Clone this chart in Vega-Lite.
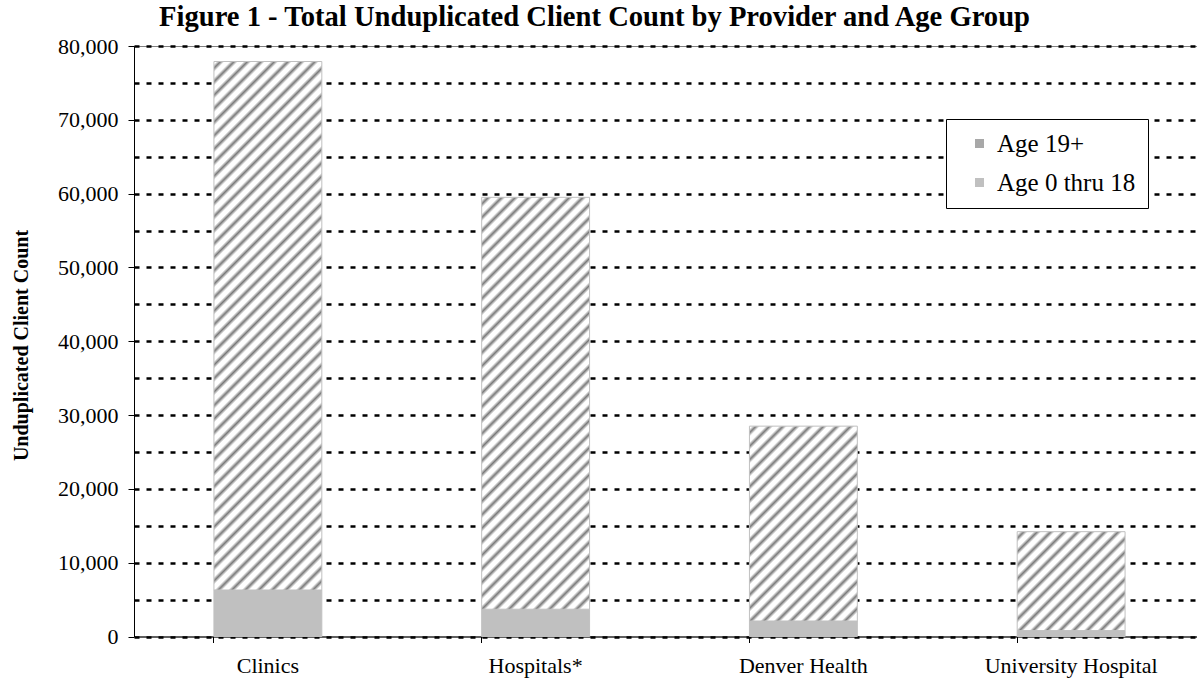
{
  "$schema": "https://vega.github.io/schema/vega-lite/v6.json",
  "width": 1063,
  "height": 590.5,
  "autosize": {"type": "none"},
  "padding": {"left": 134, "top": 46, "right": 0, "bottom": 43.5},
  "background": "white",
  "title": {
    "text": "Figure 1 - Total Unduplicated Client Count by Provider and Age Group",
    "font": "Liberation Serif, Times New Roman, serif",
    "fontSize": 28.6,
    "fontWeight": "bold",
    "color": "#000",
    "anchor": "middle",
    "baseline": "alphabetic",
    "dx": -71,
    "offset": -20
  },
  "data": {
    "values": [
      {"provider": "Clinics", "age": "Age 0 thru 18", "count": 6300},
      {"provider": "Clinics", "age": "Age 19+", "count": 71600},
      {"provider": "Hospitals*", "age": "Age 0 thru 18", "count": 3700},
      {"provider": "Hospitals*", "age": "Age 19+", "count": 55800},
      {"provider": "Denver Health", "age": "Age 0 thru 18", "count": 2100},
      {"provider": "Denver Health", "age": "Age 19+", "count": 26400},
      {"provider": "University Hospital", "age": "Age 0 thru 18", "count": 800},
      {"provider": "University Hospital", "age": "Age 19+", "count": 13400}
    ]
  },
  "mark": {"type": "bar", "stroke": "#c0c0c0", "strokeWidth": 1},
  "encoding": {
    "x": {
      "field": "provider",
      "type": "nominal",
      "sort": ["Clinics", "Hospitals*", "Denver Health", "University Hospital"],
      "scale": {"range": [0, 1071], "paddingInner": 0.597, "paddingOuter": 0.2985},
      "axis": {
        "title": null,
        "bandPosition": 0,
        "tickSize": 6,
        "tickColor": "#000",
        "domainColor": "#000",
        "labelAngle": 0,
        "labelFont": "Liberation Serif, Times New Roman, serif",
        "labelFontSize": 22,
        "labelColor": "#000",
        "labelPadding": 13,
        "grid": false
      }
    },
    "y": {
      "field": "count",
      "type": "quantitative",
      "stack": "zero",
      "scale": {"domain": [0, 80000], "nice": false},
      "axis": {
        "title": "Unduplicated Client Count",
        "values": [0, 5000, 10000, 15000, 20000, 25000, 30000, 35000, 40000, 45000, 50000, 55000, 60000, 65000, 70000, 75000, 80000],
        "labelExpr": "datum.value % 10000 === 0 ? format(datum.value, ',') : ''",
        "tickOpacity": {"condition": {"test": "datum.value % 10000 === 0", "value": 1}, "value": 0},
        "tickSize": 6,
        "tickColor": "#000",
        "domainColor": "#000",
        "grid": true,
        "gridColor": "#000",
        "gridDash": [5, 7],
        "gridWidth": 2.5,
        "labelFont": "Liberation Serif, Times New Roman, serif",
        "labelFontSize": 22,
        "labelColor": "#000",
        "labelPadding": 10,
        "titleFont": "Liberation Serif, Times New Roman, serif",
        "titleFontSize": 20,
        "titleFontWeight": "bold",
        "titleColor": "#000",
        "titleAngle": -90,
        "titleBaseline": "middle",
        "titleX": -113,
        "titleY": 299
      }
    },
    "order": {"field": "age", "sort": "ascending"},
    "fill": {
      "field": "age",
      "type": "nominal",
      "scale": {"domain": ["Age 19+", "Age 0 thru 18"], "range": ["#a8a8a8", "#c0c0c0"]},
      "legend": {
        "orient": "none",
        "legendX": 812,
        "legendY": 73,
        "title": null,
        "direction": "vertical",
        "symbolType": "square",
        "symbolSize": 81,
        "symbolStrokeWidth": 0,
        "symbolOffset": 9,
        "labelFont": "Liberation Serif, Times New Roman, serif",
        "labelFontSize": 25,
        "labelColor": "#000",
        "labelOffset": 5,
        "rowPadding": 13,
        "padding": 12,
        "strokeColor": "#000",
        "fillColor": "#fff"
      },
      "condition": [
        {
          "test": "datum.age === 'Age 19+' && datum.provider === 'Clinics'",
          "value": {
            "gradient": "linear", "x1": 0, "y1": 0, "x2": 0.236, "y2": 1.156,
            "stops": [
              {"offset":0.0042,"color":"#fff"},{"offset":0.0106,"color":"#7a7a7a"},{"offset":0.0170,"color":"#fff"},
              {"offset":0.0254,"color":"#fff"},{"offset":0.0318,"color":"#7a7a7a"},{"offset":0.0382,"color":"#fff"},
              {"offset":0.0466,"color":"#fff"},{"offset":0.0530,"color":"#7a7a7a"},{"offset":0.0594,"color":"#fff"},
              {"offset":0.0678,"color":"#fff"},{"offset":0.0742,"color":"#7a7a7a"},{"offset":0.0806,"color":"#fff"},
              {"offset":0.0890,"color":"#fff"},{"offset":0.0954,"color":"#7a7a7a"},{"offset":0.1018,"color":"#fff"},
              {"offset":0.1102,"color":"#fff"},{"offset":0.1166,"color":"#7a7a7a"},{"offset":0.1230,"color":"#fff"},
              {"offset":0.1314,"color":"#fff"},{"offset":0.1378,"color":"#7a7a7a"},{"offset":0.1442,"color":"#fff"},
              {"offset":0.1526,"color":"#fff"},{"offset":0.1590,"color":"#7a7a7a"},{"offset":0.1654,"color":"#fff"},
              {"offset":0.1738,"color":"#fff"},{"offset":0.1802,"color":"#7a7a7a"},{"offset":0.1866,"color":"#fff"},
              {"offset":0.1950,"color":"#fff"},{"offset":0.2014,"color":"#7a7a7a"},{"offset":0.2078,"color":"#fff"},
              {"offset":0.2162,"color":"#fff"},{"offset":0.2226,"color":"#7a7a7a"},{"offset":0.2290,"color":"#fff"},
              {"offset":0.2374,"color":"#fff"},{"offset":0.2438,"color":"#7a7a7a"},{"offset":0.2502,"color":"#fff"},
              {"offset":0.2586,"color":"#fff"},{"offset":0.2650,"color":"#7a7a7a"},{"offset":0.2714,"color":"#fff"},
              {"offset":0.2798,"color":"#fff"},{"offset":0.2862,"color":"#7a7a7a"},{"offset":0.2926,"color":"#fff"},
              {"offset":0.3010,"color":"#fff"},{"offset":0.3074,"color":"#7a7a7a"},{"offset":0.3138,"color":"#fff"},
              {"offset":0.3222,"color":"#fff"},{"offset":0.3286,"color":"#7a7a7a"},{"offset":0.3350,"color":"#fff"},
              {"offset":0.3434,"color":"#fff"},{"offset":0.3498,"color":"#7a7a7a"},{"offset":0.3562,"color":"#fff"},
              {"offset":0.3646,"color":"#fff"},{"offset":0.3710,"color":"#7a7a7a"},{"offset":0.3774,"color":"#fff"},
              {"offset":0.3858,"color":"#fff"},{"offset":0.3922,"color":"#7a7a7a"},{"offset":0.3986,"color":"#fff"},
              {"offset":0.4070,"color":"#fff"},{"offset":0.4134,"color":"#7a7a7a"},{"offset":0.4198,"color":"#fff"},
              {"offset":0.4282,"color":"#fff"},{"offset":0.4346,"color":"#7a7a7a"},{"offset":0.4410,"color":"#fff"},
              {"offset":0.4494,"color":"#fff"},{"offset":0.4558,"color":"#7a7a7a"},{"offset":0.4622,"color":"#fff"},
              {"offset":0.4706,"color":"#fff"},{"offset":0.4770,"color":"#7a7a7a"},{"offset":0.4834,"color":"#fff"},
              {"offset":0.4918,"color":"#fff"},{"offset":0.4982,"color":"#7a7a7a"},{"offset":0.5046,"color":"#fff"},
              {"offset":0.5130,"color":"#fff"},{"offset":0.5194,"color":"#7a7a7a"},{"offset":0.5258,"color":"#fff"},
              {"offset":0.5342,"color":"#fff"},{"offset":0.5406,"color":"#7a7a7a"},{"offset":0.5470,"color":"#fff"},
              {"offset":0.5554,"color":"#fff"},{"offset":0.5618,"color":"#7a7a7a"},{"offset":0.5682,"color":"#fff"},
              {"offset":0.5766,"color":"#fff"},{"offset":0.5830,"color":"#7a7a7a"},{"offset":0.5894,"color":"#fff"},
              {"offset":0.5978,"color":"#fff"},{"offset":0.6042,"color":"#7a7a7a"},{"offset":0.6106,"color":"#fff"},
              {"offset":0.6190,"color":"#fff"},{"offset":0.6254,"color":"#7a7a7a"},{"offset":0.6318,"color":"#fff"},
              {"offset":0.6402,"color":"#fff"},{"offset":0.6466,"color":"#7a7a7a"},{"offset":0.6530,"color":"#fff"},
              {"offset":0.6614,"color":"#fff"},{"offset":0.6678,"color":"#7a7a7a"},{"offset":0.6742,"color":"#fff"},
              {"offset":0.6826,"color":"#fff"},{"offset":0.6890,"color":"#7a7a7a"},{"offset":0.6954,"color":"#fff"},
              {"offset":0.7038,"color":"#fff"},{"offset":0.7102,"color":"#7a7a7a"},{"offset":0.7166,"color":"#fff"},
              {"offset":0.7250,"color":"#fff"},{"offset":0.7314,"color":"#7a7a7a"},{"offset":0.7378,"color":"#fff"},
              {"offset":0.7462,"color":"#fff"},{"offset":0.7526,"color":"#7a7a7a"},{"offset":0.7590,"color":"#fff"},
              {"offset":0.7674,"color":"#fff"},{"offset":0.7738,"color":"#7a7a7a"},{"offset":0.7802,"color":"#fff"},
              {"offset":0.7886,"color":"#fff"},{"offset":0.7950,"color":"#7a7a7a"},{"offset":0.8014,"color":"#fff"},
              {"offset":0.8098,"color":"#fff"},{"offset":0.8162,"color":"#7a7a7a"},{"offset":0.8226,"color":"#fff"},
              {"offset":0.8310,"color":"#fff"},{"offset":0.8374,"color":"#7a7a7a"},{"offset":0.8438,"color":"#fff"},
              {"offset":0.8522,"color":"#fff"},{"offset":0.8586,"color":"#7a7a7a"},{"offset":0.8650,"color":"#fff"},
              {"offset":0.8734,"color":"#fff"},{"offset":0.8798,"color":"#7a7a7a"},{"offset":0.8862,"color":"#fff"},
              {"offset":0.8946,"color":"#fff"},{"offset":0.9010,"color":"#7a7a7a"},{"offset":0.9074,"color":"#fff"},
              {"offset":0.9158,"color":"#fff"},{"offset":0.9222,"color":"#7a7a7a"},{"offset":0.9286,"color":"#fff"},
              {"offset":0.9370,"color":"#fff"},{"offset":0.9434,"color":"#7a7a7a"},{"offset":0.9498,"color":"#fff"},
              {"offset":0.9582,"color":"#fff"},{"offset":0.9646,"color":"#7a7a7a"},{"offset":0.9710,"color":"#fff"},
              {"offset":0.9794,"color":"#fff"},{"offset":0.9858,"color":"#7a7a7a"},{"offset":0.9922,"color":"#fff"}
            ]
          }
        },
        {
          "test": "datum.age === 'Age 19+' && datum.provider === 'Hospitals*'",
          "value": {
            "gradient": "linear", "x1": 0, "y1": 0, "x2": 0.3093, "y2": 1.1809,
            "stops": [
              {"offset":0.0052,"color":"#fff"},{"offset":0.0130,"color":"#7a7a7a"},{"offset":0.0208,"color":"#fff"},
              {"offset":0.0312,"color":"#fff"},{"offset":0.0390,"color":"#7a7a7a"},{"offset":0.0468,"color":"#fff"},
              {"offset":0.0572,"color":"#fff"},{"offset":0.0650,"color":"#7a7a7a"},{"offset":0.0728,"color":"#fff"},
              {"offset":0.0832,"color":"#fff"},{"offset":0.0910,"color":"#7a7a7a"},{"offset":0.0988,"color":"#fff"},
              {"offset":0.1092,"color":"#fff"},{"offset":0.1170,"color":"#7a7a7a"},{"offset":0.1248,"color":"#fff"},
              {"offset":0.1352,"color":"#fff"},{"offset":0.1430,"color":"#7a7a7a"},{"offset":0.1508,"color":"#fff"},
              {"offset":0.1612,"color":"#fff"},{"offset":0.1690,"color":"#7a7a7a"},{"offset":0.1768,"color":"#fff"},
              {"offset":0.1872,"color":"#fff"},{"offset":0.1950,"color":"#7a7a7a"},{"offset":0.2028,"color":"#fff"},
              {"offset":0.2132,"color":"#fff"},{"offset":0.2210,"color":"#7a7a7a"},{"offset":0.2288,"color":"#fff"},
              {"offset":0.2392,"color":"#fff"},{"offset":0.2470,"color":"#7a7a7a"},{"offset":0.2548,"color":"#fff"},
              {"offset":0.2652,"color":"#fff"},{"offset":0.2730,"color":"#7a7a7a"},{"offset":0.2808,"color":"#fff"},
              {"offset":0.2912,"color":"#fff"},{"offset":0.2990,"color":"#7a7a7a"},{"offset":0.3068,"color":"#fff"},
              {"offset":0.3172,"color":"#fff"},{"offset":0.3250,"color":"#7a7a7a"},{"offset":0.3328,"color":"#fff"},
              {"offset":0.3432,"color":"#fff"},{"offset":0.3510,"color":"#7a7a7a"},{"offset":0.3588,"color":"#fff"},
              {"offset":0.3692,"color":"#fff"},{"offset":0.3770,"color":"#7a7a7a"},{"offset":0.3848,"color":"#fff"},
              {"offset":0.3952,"color":"#fff"},{"offset":0.4030,"color":"#7a7a7a"},{"offset":0.4108,"color":"#fff"},
              {"offset":0.4212,"color":"#fff"},{"offset":0.4290,"color":"#7a7a7a"},{"offset":0.4368,"color":"#fff"},
              {"offset":0.4472,"color":"#fff"},{"offset":0.4550,"color":"#7a7a7a"},{"offset":0.4628,"color":"#fff"},
              {"offset":0.4732,"color":"#fff"},{"offset":0.4810,"color":"#7a7a7a"},{"offset":0.4888,"color":"#fff"},
              {"offset":0.4992,"color":"#fff"},{"offset":0.5070,"color":"#7a7a7a"},{"offset":0.5148,"color":"#fff"},
              {"offset":0.5252,"color":"#fff"},{"offset":0.5330,"color":"#7a7a7a"},{"offset":0.5408,"color":"#fff"},
              {"offset":0.5512,"color":"#fff"},{"offset":0.5590,"color":"#7a7a7a"},{"offset":0.5668,"color":"#fff"},
              {"offset":0.5772,"color":"#fff"},{"offset":0.5850,"color":"#7a7a7a"},{"offset":0.5928,"color":"#fff"},
              {"offset":0.6032,"color":"#fff"},{"offset":0.6110,"color":"#7a7a7a"},{"offset":0.6188,"color":"#fff"},
              {"offset":0.6292,"color":"#fff"},{"offset":0.6370,"color":"#7a7a7a"},{"offset":0.6448,"color":"#fff"},
              {"offset":0.6552,"color":"#fff"},{"offset":0.6630,"color":"#7a7a7a"},{"offset":0.6708,"color":"#fff"},
              {"offset":0.6812,"color":"#fff"},{"offset":0.6890,"color":"#7a7a7a"},{"offset":0.6968,"color":"#fff"},
              {"offset":0.7072,"color":"#fff"},{"offset":0.7150,"color":"#7a7a7a"},{"offset":0.7228,"color":"#fff"},
              {"offset":0.7332,"color":"#fff"},{"offset":0.7410,"color":"#7a7a7a"},{"offset":0.7488,"color":"#fff"},
              {"offset":0.7592,"color":"#fff"},{"offset":0.7670,"color":"#7a7a7a"},{"offset":0.7748,"color":"#fff"},
              {"offset":0.7852,"color":"#fff"},{"offset":0.7930,"color":"#7a7a7a"},{"offset":0.8008,"color":"#fff"},
              {"offset":0.8112,"color":"#fff"},{"offset":0.8190,"color":"#7a7a7a"},{"offset":0.8268,"color":"#fff"},
              {"offset":0.8372,"color":"#fff"},{"offset":0.8450,"color":"#7a7a7a"},{"offset":0.8528,"color":"#fff"},
              {"offset":0.8632,"color":"#fff"},{"offset":0.8710,"color":"#7a7a7a"},{"offset":0.8788,"color":"#fff"},
              {"offset":0.8892,"color":"#fff"},{"offset":0.8970,"color":"#7a7a7a"},{"offset":0.9048,"color":"#fff"},
              {"offset":0.9152,"color":"#fff"},{"offset":0.9230,"color":"#7a7a7a"},{"offset":0.9308,"color":"#fff"},
              {"offset":0.9412,"color":"#fff"},{"offset":0.9490,"color":"#7a7a7a"},{"offset":0.9568,"color":"#fff"},
              {"offset":0.9672,"color":"#fff"},{"offset":0.9750,"color":"#7a7a7a"},{"offset":0.9828,"color":"#fff"},
              {"offset":0.9932,"color":"#fff"}
            ]
          }
        },
        {
          "test": "datum.age === 'Age 19+' && datum.provider === 'Denver Health'",
          "value": {
            "gradient": "linear", "x1": 0, "y1": 0, "x2": 0.6583, "y2": 1.1891,
            "stops": [
              {"offset":0.0089,"color":"#fff"},{"offset":0.0223,"color":"#7a7a7a"},{"offset":0.0357,"color":"#fff"},
              {"offset":0.0535,"color":"#fff"},{"offset":0.0669,"color":"#7a7a7a"},{"offset":0.0803,"color":"#fff"},
              {"offset":0.0981,"color":"#fff"},{"offset":0.1115,"color":"#7a7a7a"},{"offset":0.1249,"color":"#fff"},
              {"offset":0.1427,"color":"#fff"},{"offset":0.1561,"color":"#7a7a7a"},{"offset":0.1695,"color":"#fff"},
              {"offset":0.1873,"color":"#fff"},{"offset":0.2007,"color":"#7a7a7a"},{"offset":0.2141,"color":"#fff"},
              {"offset":0.2319,"color":"#fff"},{"offset":0.2453,"color":"#7a7a7a"},{"offset":0.2587,"color":"#fff"},
              {"offset":0.2765,"color":"#fff"},{"offset":0.2899,"color":"#7a7a7a"},{"offset":0.3033,"color":"#fff"},
              {"offset":0.3211,"color":"#fff"},{"offset":0.3345,"color":"#7a7a7a"},{"offset":0.3479,"color":"#fff"},
              {"offset":0.3657,"color":"#fff"},{"offset":0.3791,"color":"#7a7a7a"},{"offset":0.3925,"color":"#fff"},
              {"offset":0.4103,"color":"#fff"},{"offset":0.4237,"color":"#7a7a7a"},{"offset":0.4371,"color":"#fff"},
              {"offset":0.4549,"color":"#fff"},{"offset":0.4683,"color":"#7a7a7a"},{"offset":0.4817,"color":"#fff"},
              {"offset":0.4995,"color":"#fff"},{"offset":0.5129,"color":"#7a7a7a"},{"offset":0.5263,"color":"#fff"},
              {"offset":0.5441,"color":"#fff"},{"offset":0.5575,"color":"#7a7a7a"},{"offset":0.5709,"color":"#fff"},
              {"offset":0.5887,"color":"#fff"},{"offset":0.6021,"color":"#7a7a7a"},{"offset":0.6155,"color":"#fff"},
              {"offset":0.6333,"color":"#fff"},{"offset":0.6467,"color":"#7a7a7a"},{"offset":0.6601,"color":"#fff"},
              {"offset":0.6779,"color":"#fff"},{"offset":0.6913,"color":"#7a7a7a"},{"offset":0.7047,"color":"#fff"},
              {"offset":0.7225,"color":"#fff"},{"offset":0.7359,"color":"#7a7a7a"},{"offset":0.7493,"color":"#fff"},
              {"offset":0.7671,"color":"#fff"},{"offset":0.7805,"color":"#7a7a7a"},{"offset":0.7939,"color":"#fff"},
              {"offset":0.8117,"color":"#fff"},{"offset":0.8251,"color":"#7a7a7a"},{"offset":0.8385,"color":"#fff"},
              {"offset":0.8563,"color":"#fff"},{"offset":0.8697,"color":"#7a7a7a"},{"offset":0.8831,"color":"#fff"},
              {"offset":0.9009,"color":"#fff"},{"offset":0.9143,"color":"#7a7a7a"},{"offset":0.9277,"color":"#fff"},
              {"offset":0.9455,"color":"#fff"},{"offset":0.9589,"color":"#7a7a7a"},{"offset":0.9723,"color":"#fff"},
              {"offset":0.9901,"color":"#fff"}
            ]
          }
        },
        {
          "test": "datum.age === 'Age 19+' && datum.provider === 'University Hospital'",
          "value": {
            "gradient": "linear", "x1": 0, "y1": 0, "x2": 1.0416, "y2": 0.9547,
            "stops": [
              {"offset":0.0131,"color":"#fff"},{"offset":0.0327,"color":"#7a7a7a"},{"offset":0.0522,"color":"#fff"},
              {"offset":0.0784,"color":"#fff"},{"offset":0.0980,"color":"#7a7a7a"},{"offset":0.1175,"color":"#fff"},
              {"offset":0.1437,"color":"#fff"},{"offset":0.1633,"color":"#7a7a7a"},{"offset":0.1828,"color":"#fff"},
              {"offset":0.2090,"color":"#fff"},{"offset":0.2286,"color":"#7a7a7a"},{"offset":0.2481,"color":"#fff"},
              {"offset":0.2743,"color":"#fff"},{"offset":0.2939,"color":"#7a7a7a"},{"offset":0.3134,"color":"#fff"},
              {"offset":0.3396,"color":"#fff"},{"offset":0.3592,"color":"#7a7a7a"},{"offset":0.3787,"color":"#fff"},
              {"offset":0.4049,"color":"#fff"},{"offset":0.4245,"color":"#7a7a7a"},{"offset":0.4440,"color":"#fff"},
              {"offset":0.4702,"color":"#fff"},{"offset":0.4898,"color":"#7a7a7a"},{"offset":0.5093,"color":"#fff"},
              {"offset":0.5355,"color":"#fff"},{"offset":0.5551,"color":"#7a7a7a"},{"offset":0.5746,"color":"#fff"},
              {"offset":0.6008,"color":"#fff"},{"offset":0.6204,"color":"#7a7a7a"},{"offset":0.6399,"color":"#fff"},
              {"offset":0.6661,"color":"#fff"},{"offset":0.6857,"color":"#7a7a7a"},{"offset":0.7052,"color":"#fff"},
              {"offset":0.7314,"color":"#fff"},{"offset":0.7510,"color":"#7a7a7a"},{"offset":0.7705,"color":"#fff"},
              {"offset":0.7967,"color":"#fff"},{"offset":0.8163,"color":"#7a7a7a"},{"offset":0.8358,"color":"#fff"},
              {"offset":0.8620,"color":"#fff"},{"offset":0.8816,"color":"#7a7a7a"},{"offset":0.9011,"color":"#fff"},
              {"offset":0.9273,"color":"#fff"},{"offset":0.9469,"color":"#7a7a7a"},{"offset":0.9664,"color":"#fff"},
              {"offset":0.9926,"color":"#fff"}
            ]
          }
        }
      ]
    }
  },
  "config": {
    "view": {"stroke": "#808080", "strokeWidth": 1},
    "font": "Liberation Serif, Times New Roman, serif"
  }
}
